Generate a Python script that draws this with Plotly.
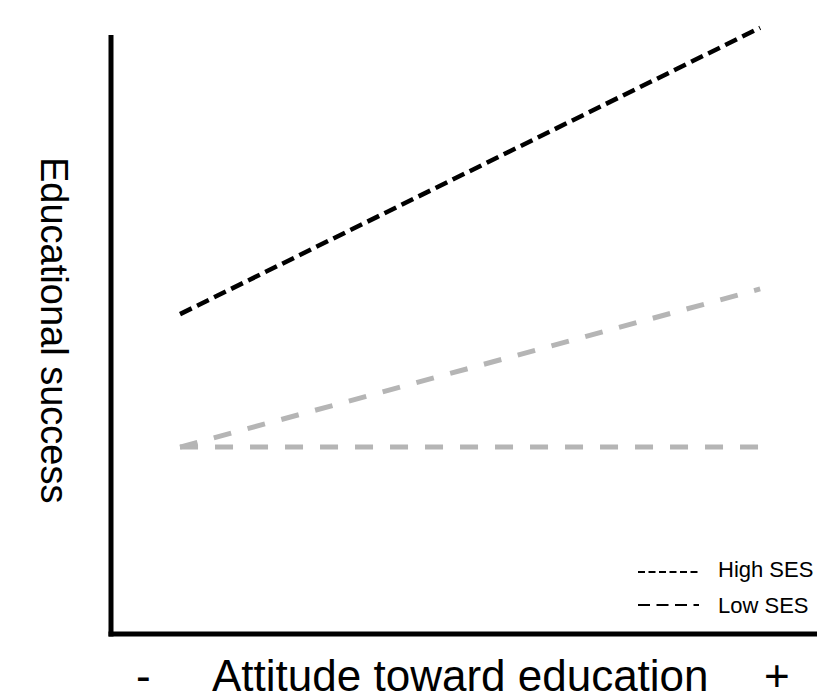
import plotly.graph_objects as go

# Data
attitude = [0, 1]                      # low (-) to high (+) attitude
high_ses = [53.4, 101.2]               # black dashed
low_ses_rising = [31.2, 57.6]          # gray dashed, rising
low_ses_flat = [31.2, 31.2]            # gray dashed, flat
legend_labels = ["High SES", "Low SES"]

W, H = 837, 695
ML, MR, MT, MB = 111, 20, 17, 61
PW, PH = W - ML - MR, H - MT - MB

def px2paper_x(px):
    return (px - ML) / PW

def px2paper_y(py):
    return (H - MB - py) / PH

FONT = "Liberation Sans, Arial, sans-serif"
GRAY = "#b5b5b5"

fig = go.Figure()
fig.add_trace(go.Scatter(x=attitude, y=low_ses_flat, mode="lines",
                         line=dict(color=GRAY, width=5, dash="18px,17px"),
                         showlegend=False, hoverinfo="skip"))
fig.add_trace(go.Scatter(x=attitude, y=low_ses_rising, mode="lines",
                         line=dict(color=GRAY, width=5, dash="18px,17px"),
                         showlegend=False, name=legend_labels[1]))
fig.add_trace(go.Scatter(x=attitude, y=high_ses, mode="lines",
                         line=dict(color="black", width=4.5, dash="13px,6px"),
                         showlegend=False, name=legend_labels[0]))

shapes = [
    # axis lines
    dict(type="line", xref="paper", yref="paper",
         x0=px2paper_x(108.5), x1=px2paper_x(817), y0=px2paper_y(634), y1=px2paper_y(634),
         line=dict(color="black", width=5)),
    dict(type="line", xref="paper", yref="paper",
         x0=px2paper_x(111), x1=px2paper_x(111), y0=px2paper_y(636.5), y1=px2paper_y(35),
         line=dict(color="black", width=5)),
    # legend samples
    dict(type="line", xref="paper", yref="paper",
         x0=px2paper_x(638), x1=px2paper_x(700), y0=px2paper_y(572), y1=px2paper_y(572),
         line=dict(color="black", width=2, dash="7px,3.5px")),
    dict(type="line", xref="paper", yref="paper",
         x0=px2paper_x(638), x1=px2paper_x(699), y0=px2paper_y(605), y1=px2paper_y(605),
         line=dict(color="black", width=2, dash="12px,6.5px")),
]

annotations = [
    dict(text="Attitude toward education", x=px2paper_x(460), y=px2paper_y(676),
         xref="paper", yref="paper", showarrow=False, xanchor="center", yanchor="middle",
         font=dict(family=FONT, size=44, color="black")),
    dict(text="-", x=px2paper_x(143), y=px2paper_y(676),
         xref="paper", yref="paper", showarrow=False, xanchor="center", yanchor="middle",
         font=dict(family=FONT, size=44, color="black")),
    dict(text="+", x=px2paper_x(777), y=px2paper_y(676),
         xref="paper", yref="paper", showarrow=False, xanchor="center", yanchor="middle",
         font=dict(family=FONT, size=44, color="black")),
    dict(text="Educational success", x=px2paper_x(54), y=px2paper_y(330),
         xref="paper", yref="paper", showarrow=False, xanchor="center", yanchor="middle",
         textangle=90, font=dict(family=FONT, size=38, color="black")),
    dict(text=legend_labels[0], x=px2paper_x(716), y=px2paper_y(569),
         xref="paper", yref="paper", showarrow=False, xanchor="left", yanchor="middle",
         font=dict(family=FONT, size=22, color="black")),
    dict(text=legend_labels[1], x=px2paper_x(716), y=px2paper_y(605),
         xref="paper", yref="paper", showarrow=False, xanchor="left", yanchor="middle",
         font=dict(family=FONT, size=22, color="black")),
]

fig.update_layout(
    width=W, height=H,
    margin=dict(l=ML, r=MR, t=MT, b=MB, pad=0),
    paper_bgcolor="white", plot_bgcolor="white",
    xaxis=dict(range=[-0.119, 1.098], showgrid=False, zeroline=False,
               showticklabels=False, ticks="", showline=False),
    yaxis=dict(range=[0, 103], showgrid=False, zeroline=False,
               showticklabels=False, ticks="", showline=False),
    shapes=shapes, annotations=annotations, showlegend=False,
)

fig.write_html("out.html", config={"displayModeBar": False},
               post_script="document.body.style.margin='0px';document.body.style.padding='0px';")
